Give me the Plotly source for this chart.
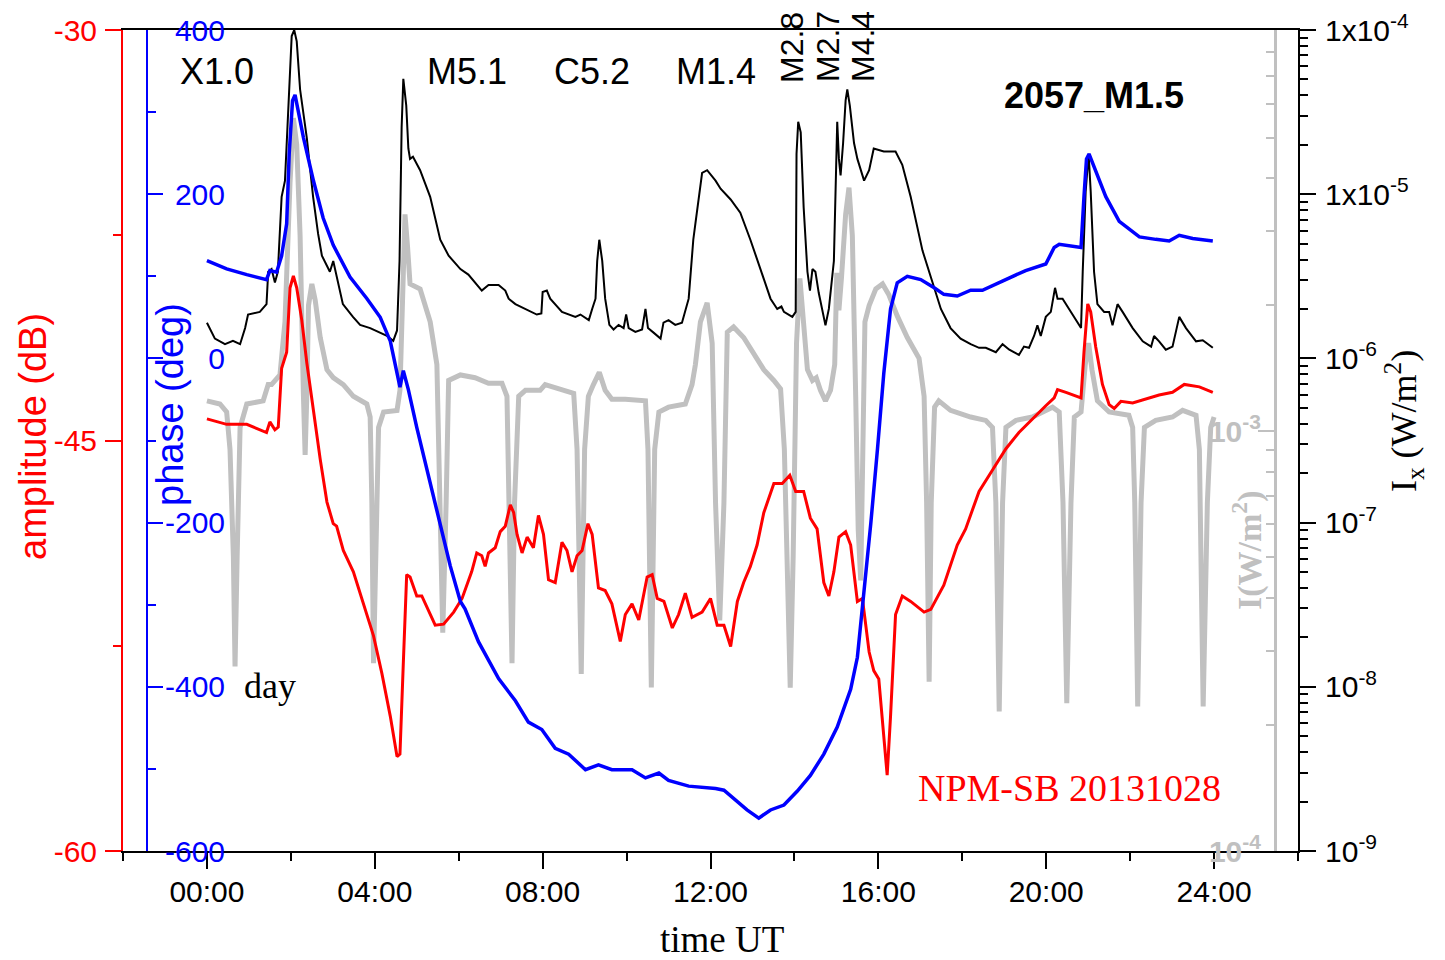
import plotly.graph_objects as go

W, H = 1445, 960
SANS = "Liberation Sans, Arial, sans-serif"
SERIF = "Liberation Serif, Times New Roman, serif"
GRAY = "#C0C0C0"
RED = "#FF0000"
BLUE = "#0000FF"

# ---------------- data (time in hours UT) ----------------
# GOES X-ray flux Ix (W/m^2), black curve, right log axis
t_xray = [0.00,0.19,0.43,0.62,0.79,0.91,0.98,1.26,1.42,1.46,
          1.54,1.62,1.69,1.78,1.86,1.93,2.02,2.08,2.14,2.22,
          2.38,2.53,2.65,2.74,2.86,2.93,3.01,3.09,3.24,3.48,
          3.65,3.89,4.13,4.29,4.44,4.53,4.59,4.64,4.68,4.75,
          4.80,4.84,4.91,5.08,5.32,5.56,5.76,6.04,
          6.23,6.55,6.71,6.95,7.11,7.19,7.35,7.59,7.86,7.97,
          8.00,8.10,8.18,8.46,8.78,8.90,9.10,9.18,9.26,9.30,
          9.35,9.42,9.49,9.59,9.69,9.81,9.93,9.99,10.05,10.21,
          10.37,10.45,10.51,10.65,10.81,10.88,11.00,11.16,11.32,11.48,
          11.59,11.64,11.80,11.92,12.12,
          12.24,12.48,12.71,12.95,13.19,13.43,13.59,13.69,13.75,13.95,
          14.03,14.05,14.09,14.15,14.22,14.31,14.37,14.43,14.50,14.58,
          14.74,14.82,14.94,14.98,15.02,15.06,15.10,15.16,15.22,15.26,
          15.32,15.42,15.50,15.66,15.78,15.89,16.13,16.41,16.57,16.77,
          17.05,17.25,17.49,17.72,17.96,18.20,
          18.40,18.56,18.80,18.96,19.12,19.35,19.47,19.59,19.71,19.79,
          19.87,19.99,20.11,20.21,20.27,20.39,20.55,20.71,20.83,20.87,
          20.94,21.01,21.06,21.14,21.22,21.38,21.50,21.58,21.70,21.82,
          22.06,22.30,22.50,22.57,22.69,22.85,23.01,23.17,23.33,23.57,23.73,23.97]
flux_xray = [1.65e-6,1.32e-6,1.22e-6,1.28e-6,1.22e-6,1.53e-6,1.85e-6,1.92e-6,2.14e-6,3.37e-6,
             3.50e-6,2.90e-6,3.37e-6,9.64e-6,1.21e-5,2.99e-5,9.19e-5,1.0e-4,8.53e-5,4.34e-5,
             2.20e-5,9.64e-6,5.73e-6,4.22e-6,3.66e-6,3.37e-6,3.92e-6,3.13e-6,2.14e-6,1.79e-6,
             1.60e-6,1.53e-6,1.43e-6,1.37e-6,1.28e-6,1.48e-6,3.92e-6,2.56e-5,5.04e-5,3.46e-5,
             1.90e-5,1.64e-5,1.69e-5,1.40e-5,9.64e-6,5.28e-6,4.22e-6,3.50e-6,
             3.24e-6,2.59e-6,2.80e-6,2.80e-6,2.59e-6,2.31e-6,2.14e-6,2.00e-6,1.85e-6,1.88e-6,
             2.54e-6,2.59e-6,2.31e-6,1.92e-6,1.79e-6,1.85e-6,1.71e-6,2.00e-6,2.31e-6,3.92e-6,
             5.28e-6,3.92e-6,2.31e-6,1.60e-6,1.50e-6,1.60e-6,1.53e-6,1.85e-6,1.53e-6,1.45e-6,
             1.50e-6,2.00e-6,1.53e-6,1.43e-6,1.32e-6,1.65e-6,1.71e-6,1.60e-6,1.65e-6,2.31e-6,
             5.28e-6,6.62e-6,1.35e-5,1.40e-5,1.21e-5,
             1.08e-5,9.29e-6,7.71e-6,5.28e-6,3.50e-6,2.31e-6,2.00e-6,2.07e-6,1.92e-6,1.79e-6,
             1.92e-6,1.76e-5,2.76e-5,2.38e-5,8.30e-6,3.37e-6,2.59e-6,3.50e-6,3.37e-6,2.50e-6,
             1.59e-6,2.00e-6,3.92e-6,1.21e-5,2.76e-5,1.64e-5,1.30e-5,2.05e-5,3.73e-5,4.34e-5,
             3.46e-5,2.05e-5,1.64e-5,1.21e-5,1.40e-5,1.90e-5,1.82e-5,1.82e-5,1.51e-5,9.64e-6,
             4.55e-6,3.13e-6,2.00e-6,1.53e-6,1.32e-6,1.22e-6,
             1.16e-6,1.16e-6,1.09e-6,1.22e-6,1.13e-6,1.05e-6,1.18e-6,1.16e-6,1.37e-6,1.59e-6,
             1.37e-6,1.79e-6,1.92e-6,2.69e-6,2.31e-6,2.31e-6,2.00e-6,1.71e-6,1.53e-6,3.37e-6,
             1.04e-5,1.76e-5,1.04e-5,3.37e-6,2.14e-6,1.92e-6,1.92e-6,1.59e-6,2.14e-6,1.92e-6,
             1.53e-6,1.27e-6,1.18e-6,1.37e-6,1.27e-6,1.13e-6,1.18e-6,1.79e-6,1.53e-6,1.27e-6,1.29e-6,1.16e-6]

# VLF phase (deg), blue curve
t_phase = [0.00,0.47,0.95,1.42,1.50,1.66,1.78,1.90,1.96,2.04,
           2.10,2.18,2.30,2.54,2.77,3.01,3.41,3.81,4.13,4.37,
           4.53,4.60,4.68,4.80,5.00,5.24,5.56,5.80,6.04,
           6.15,6.47,6.95,7.35,7.66,7.98,8.30,8.62,9.02,9.33,
           9.65,10.13,10.45,10.77,11.00,11.48,12.12,
           12.32,12.64,12.87,13.15,13.43,13.75,14.07,14.38,14.70,15.02,
           15.34,15.50,15.66,15.82,15.98,16.13,16.29,16.45,16.69,17.01,
           17.33,17.56,17.88,18.20,
           18.48,19.04,19.51,19.99,20.19,20.31,20.83,20.90,20.96,21.02,
           21.18,21.42,21.74,22.22,22.61,22.93,23.17,23.49,23.97]
phase = [119,109,102,96,107,105,125,164,249,314,
         321,301,269,216,171,138,99,73,50,21,
         -18,-35,-15,-38,-84,-136,-201,-253,-296,
         -305,-345,-390,-417,-443,-452,-475,-482,-501,-495,
         -501,-501,-511,-505,-514,-521,-524,
         -526,-540,-550,-560,-550,-544,-527,-508,-482,-449,
         -403,-364,-286,-201,-110,-18,60,92,100,96,
         86,78,76,83,
         83,96,107,115,135,139,135,197,243,249,
         229,197,167,148,145,143,150,146,143]

# VLF amplitude (dB), red curve
t_amp = [0.00,0.47,0.95,1.42,1.50,1.62,1.70,1.78,1.90,1.98,
         2.06,2.14,2.26,2.38,2.54,2.70,2.86,3.01,3.09,3.25,
         3.49,3.73,3.97,4.17,4.37,4.53,4.60,4.68,4.76,4.84,
         5.00,5.12,5.32,5.44,5.64,5.88,6.08,6.31,6.43,6.55,
         6.63,6.71,6.87,6.99,7.11,7.23,7.31,7.39,7.51,7.63,
         7.78,7.90,8.02,8.14,8.30,8.46,8.58,8.70,8.82,8.94,
         9.08,9.18,9.33,9.49,9.65,9.85,9.97,10.13,10.29,10.49,
         10.61,10.73,10.89,11.09,11.24,11.40,11.56,11.80,12.00,12.16,
         12.32,12.48,12.64,12.79,12.95,13.11,13.27,13.51,13.71,13.89,
         14.03,14.22,14.38,14.54,14.70,14.82,14.94,15.06,15.22,15.34,
         15.50,15.62,15.78,15.89,16.01,16.13,16.21,16.29,16.41,16.57,
         16.77,17.09,17.25,17.56,17.88,18.08,18.40,18.72,19.04,19.35,
         19.67,19.99,20.19,20.27,20.47,20.83,20.90,20.99,21.06,21.18,
         21.34,21.50,21.62,21.78,22.06,22.38,22.69,23.01,23.29,23.65,23.97]
amp = [-44.21,-44.41,-44.41,-44.71,-44.32,-44.61,-44.51,-42.36,-41.77,-39.42,
       -38.99,-39.42,-40.60,-42.16,-43.92,-45.69,-47.25,-48.04,-48.13,-49.02,
       -49.80,-50.97,-52.14,-53.52,-55.08,-56.55,-56.46,-53.13,-49.90,-49.99,
       -50.68,-50.68,-51.36,-51.75,-51.71,-51.27,-50.77,-49.79,-49.11,-49.21,
       -49.60,-49.11,-48.92,-48.33,-48.13,-47.35,-47.64,-48.43,-49.11,-48.53,
       -48.92,-47.74,-48.43,-50.09,-50.19,-48.72,-49.02,-49.80,-49.21,-49.02,
       -48.04,-48.43,-50.39,-50.48,-50.97,-52.34,-51.36,-50.97,-51.56,-49.99,
       -49.90,-50.77,-50.88,-51.85,-51.36,-50.58,-51.46,-51.27,-50.77,-51.75,
       -51.75,-52.53,-50.88,-50.19,-49.60,-48.82,-47.64,-46.57,-46.57,-46.27,
       -46.86,-46.86,-47.84,-48.23,-50.19,-50.68,-49.80,-48.53,-48.33,-48.82,
       -50.88,-50.77,-52.73,-53.41,-53.71,-55.86,-57.23,-55.08,-51.36,-50.68,
       -50.88,-51.27,-51.17,-50.29,-48.82,-48.23,-46.86,-46.08,-45.30,-44.71,
       -44.21,-43.73,-43.44,-43.14,-43.24,-43.44,-41.77,-40.01,-40.30,-41.58,
       -42.95,-43.69,-43.83,-43.57,-43.63,-43.49,-43.34,-43.24,-42.95,-43.04,-43.24]

# Gray flux curve I (W/m^2), gray log axis
t_gray = [0.00,0.31,0.47,0.55,0.63,0.67,0.72,0.79,0.95,1.34,
          1.46,1.54,1.74,1.86,1.98,2.06,2.14,2.22,2.30,2.34,
          2.38,2.42,2.50,2.58,2.70,2.86,3.01,3.25,3.49,3.81,
          3.89,3.93,3.97,4.03,4.09,4.21,4.53,4.60,4.67,4.72,
          4.78,4.84,5.08,5.32,5.48,5.56,5.62,5.70,5.76,6.04,
          6.39,6.71,7.03,7.15,7.20,7.27,7.33,7.43,7.59,7.94,
          8.06,8.46,8.74,8.82,8.92,9.00,9.09,9.21,9.35,9.49,
          9.65,9.97,10.45,10.51,10.59,10.67,10.77,11.00,11.40,11.56,
          11.64,11.76,11.92,12.04,12.12,12.22,12.32,12.40,12.55,12.79,
          13.03,13.27,13.51,13.67,13.76,13.84,13.90,13.97,14.05,14.13,
          14.21,14.31,14.43,14.52,14.62,14.74,14.86,14.96,15.01,15.06,
          15.12,15.22,15.30,15.38,15.46,15.52,15.58,15.62,15.68,15.78,
          15.94,16.10,16.25,16.45,16.69,16.97,17.09,17.15,17.21,17.26,
          17.34,17.44,17.72,18.20,18.56,18.72,18.80,18.88,18.96,19.04,
          19.28,19.67,20.15,20.31,20.40,20.49,20.59,20.67,20.83,20.93,
          21.01,21.09,21.22,21.50,21.97,22.06,22.11,22.18,22.26,22.34,
          22.61,23.01,23.25,23.57,23.65,23.74,23.84,23.92,24.00]
flux_gray = [1.18e-3,1.16e-3,1.11e-3,9.04e-4,5.03e-4,2.75e-4,5.03e-4,1.02e-3,1.16e-3,1.18e-3,
             1.29e-3,1.29e-3,1.36e-3,1.82e-3,3.91e-3,5.56e-3,4.81e-3,2.92e-3,1.21e-3,8.77e-4,
             1.21e-3,1.99e-3,2.24e-3,2.05e-3,1.67e-3,1.40e-3,1.34e-3,1.29e-3,1.21e-3,1.16e-3,
             1.08e-3,6.75e-4,2.80e-4,5.03e-4,1.02e-3,1.11e-3,1.12e-3,1.25e-3,2.52e-3,3.28e-3,
             2.75e-3,2.24e-3,2.18e-3,1.82e-3,1.44e-3,6.75e-4,3.31e-4,6.75e-4,1.32e-3,1.36e-3,
             1.34e-3,1.30e-3,1.30e-3,1.21e-3,6.75e-4,2.80e-4,6.75e-4,1.21e-3,1.25e-3,1.25e-3,
             1.29e-3,1.25e-3,1.23e-3,9.04e-4,2.64e-4,9.04e-4,1.21e-3,1.29e-3,1.38e-3,1.25e-3,
             1.19e-3,1.19e-3,1.18e-3,9.04e-4,2.45e-4,9.04e-4,1.11e-3,1.14e-3,1.16e-3,1.29e-3,
             1.44e-3,1.82e-3,2.02e-3,1.62e-3,6.75e-4,3.54e-4,6.75e-4,1.72e-3,1.77e-3,1.67e-3,
             1.53e-3,1.40e-3,1.32e-3,1.26e-3,9.04e-4,3.76e-4,2.45e-4,5.03e-4,1.62e-3,2.31e-3,
             1.88e-3,1.40e-3,1.32e-3,1.34e-3,1.25e-3,1.18e-3,1.25e-3,1.44e-3,2.38e-3,1.94e-3,
             2.31e-3,3.28e-3,3.80e-3,2.92e-3,1.21e-3,5.82e-4,4.41e-4,9.04e-4,1.82e-3,1.99e-3,
             2.18e-3,2.24e-3,2.11e-3,1.88e-3,1.67e-3,1.49e-3,1.21e-3,6.75e-4,2.53e-4,6.75e-4,
             1.14e-3,1.18e-3,1.12e-3,1.08e-3,1.06e-3,1.02e-3,6.75e-4,2.15e-4,6.75e-4,1.02e-3,
             1.06e-3,1.08e-3,1.14e-3,1.11e-3,6.75e-4,2.25e-4,6.75e-4,1.08e-3,1.11e-3,1.44e-3,
             1.62e-3,1.40e-3,1.18e-3,1.11e-3,1.09e-3,1.02e-3,6.75e-4,2.21e-4,6.75e-4,1.02e-3,
             1.06e-3,1.08e-3,1.12e-3,1.09e-3,9.04e-4,2.21e-4,6.75e-4,1.02e-3,1.08e-3]

# axis ticks / labels
x_tickvals = [0, 4, 8, 12, 16, 20, 24]
x_ticktext = ["00:00", "04:00", "08:00", "12:00", "16:00", "20:00", "24:00"]
x_minor = [-2, 2, 6, 10, 14, 18, 22, 26]
amp_ticks = [-60, -45, -30]
amp_minor = [-52.5, -37.5]
phase_ticks = [-600, -400, -200, 0, 200, 400]
phase_minor = [-500, -300, -100, 100, 300]
ix_ticks = [1e-9, 1e-8, 1e-7, 1e-6, 1e-5, 1e-4]
ix_ticktext = ["10<sup>-9</sup>", "10<sup>-8</sup>", "10<sup>-7</sup>", "10<sup>-6</sup>",
               "1x10<sup>-5</sup>", "1x10<sup>-4</sup>"]
ix_minor = [k * 10.0 ** e for e in range(-9, -4) for k in range(2, 10)]
gray_ticks = [1e-4, 1e-3]
gray_ticktext = ["<b>10<sup>-4</sup></b>", "<b>10<sup>-3</sup></b>"]
gray_minor = [k * 10.0 ** e for e in (-4, -3) for k in range(2, 10)]

flare_labels = ["X1.0", "M5.1", "C5.2", "M1.4"]
flare_label_px = [217, 467, 592, 716]
flare_rot_labels = ["M2.8", "M2.7", "M4.4"]
flare_rot_px = [792, 828, 863]

# ---------------- figure ----------------
def px(x):
    return x / W

def py(y):
    return 1 - y / H

XDOM = [px(123), px(1298)]
YDOM = [py(851), py(30)]

fig = go.Figure()
fig.add_trace(go.Scatter(x=t_gray, y=flux_gray, yaxis="y", mode="lines",
                         line=dict(color=GRAY, width=5), showlegend=False, hoverinfo="skip"))
fig.add_trace(go.Scatter(x=t_xray, y=flux_xray, yaxis="y2", mode="lines",
                         line=dict(color="black", width=2), showlegend=False))
fig.add_trace(go.Scatter(x=t_amp, y=amp, yaxis="y3", mode="lines",
                         line=dict(color=RED, width=3), showlegend=False))
fig.add_trace(go.Scatter(x=t_phase, y=phase, yaxis="y4", mode="lines",
                         line=dict(color=BLUE, width=3.5), showlegend=False))
fig.add_trace(go.Scatter(x=[None], y=[None], yaxis="y5", mode="lines", showlegend=False))

fig.update_layout(
    width=W, height=H, autosize=False,
    margin=dict(l=0, r=0, t=0, b=0, pad=0),
    template="none",
    paper_bgcolor="white", plot_bgcolor="white",
    font=dict(family=SANS, size=30, color="black"),
    showlegend=False,
    xaxis=dict(domain=XDOM, range=[-2, 26], anchor="y",
               tickvals=x_tickvals, ticktext=x_ticktext,
               ticks="outside", ticklen=16, tickwidth=2, tickcolor="black",
               minor=dict(tickmode="array", tickvals=x_minor, ticks="outside", ticklen=8,
                          tickwidth=2, tickcolor="black"),
               showline=True, linecolor="black", linewidth=2, mirror=True,
               showgrid=False, zeroline=False, automargin=False,
               tickfont=dict(family=SANS, size=30, color="black"), ticklabelstandoff=-3),
    # gray log axis (base)
    yaxis=dict(domain=YDOM, type="log", range=[-4, -2.045], anchor="free", position=px(1275),
               side="right", showline=True, linecolor=GRAY, linewidth=3,
               ticks="inside", ticklen=16, tickwidth=2, tickcolor=GRAY,
               tickvals=gray_ticks, ticktext=gray_ticktext,
               ticklabelposition="inside", ticklabeloverflow="allow",
               tickfont=dict(family=SANS, size=30, color=GRAY),
               minor=dict(tickmode="array", tickvals=gray_minor, ticks="inside", ticklen=8,
                          tickwidth=2, tickcolor=GRAY),
               showgrid=False, zeroline=False, automargin=False),
    # black Ix log axis
    yaxis2=dict(domain=YDOM, type="log", range=[-9, -4], overlaying="y", anchor="x", side="right",
                showline=True, linecolor="black", linewidth=2,
                ticks="outside", ticklen=16, tickwidth=2, tickcolor="black",
                tickvals=ix_ticks, ticktext=ix_ticktext,
                tickfont=dict(family=SANS, size=30, color="black"), ticklabelstandoff=3,
                minor=dict(tickmode="array", tickvals=ix_minor, ticks="outside", ticklen=8,
                           tickwidth=2, tickcolor="black"),
                showgrid=False, zeroline=False, automargin=False),
    # red amplitude axis
    yaxis3=dict(domain=YDOM, range=[-60, -30], overlaying="y", anchor="x", side="left",
                showline=True, linecolor=RED, linewidth=2,
                ticks="outside", ticklen=16, tickwidth=2, tickcolor=RED,
                tickvals=amp_ticks, ticktext=[str(v) for v in amp_ticks],
                tickfont=dict(family=SANS, size=30, color=RED), ticklabelstandoff=2,
                minor=dict(tickmode="array", tickvals=amp_minor, ticks="outside", ticklen=8,
                           tickwidth=2, tickcolor=RED),
                showgrid=False, zeroline=False, automargin=False),
    # blue phase axis (line + inward ticks)
    yaxis4=dict(domain=YDOM, range=[-600, 400], overlaying="y", anchor="free", position=px(147),
                side="left", showline=True, linecolor=BLUE, linewidth=2,
                ticks="inside", ticklen=15, tickwidth=2, tickcolor=BLUE,
                tickvals=phase_ticks, showticklabels=False,
                minor=dict(tickmode="array", tickvals=phase_minor, ticks="inside", ticklen=8,
                           tickwidth=2, tickcolor=BLUE),
                showgrid=False, zeroline=False, automargin=False),
    # blue phase tick labels (right-aligned inside the frame)
    yaxis5=dict(domain=YDOM, range=[-600, 400], overlaying="y", anchor="free", position=px(225),
                side="left", showline=False, ticks="",
                tickvals=phase_ticks, ticktext=[str(v) for v in phase_ticks],
                tickfont=dict(family=SANS, size=30, color=BLUE), ticklabelstandoff=0,
                showgrid=False, zeroline=False, automargin=False),
)

ann = []
def text(x, y, s, size, color="black", family=SANS, angle=0):
    ann.append(dict(x=px(x), y=py(y), xref="paper", yref="paper", text=s, showarrow=False,
                    xanchor="center", yanchor="middle", textangle=angle,
                    font=dict(family=family, size=size, color=color)))

for lab, xp in zip(flare_labels, flare_label_px):
    text(xp, 72, lab, 36)
for lab, xp in zip(flare_rot_labels, flare_rot_px):
    text(xp, 47, lab, 32, angle=-90)
text(1094, 96, "<b>2057_M1.5</b>", 36)
text(270, 686, "day", 36, family=SERIF)
text(1069, 788, "NPM-SB 20131028", 38, color=RED, family=SERIF)
text(722, 939, "time UT", 37, family=SERIF)
text(33, 437, "amplitude (dB)", 38, color=RED, angle=-90)
text(170, 405, "phase (deg)", 38, color=BLUE, angle=-90)
text(1404, 421, "I<sub>x</sub> (W/m<sup>2</sup>)", 36, family=SERIF, angle=-90)
text(1247, 550, "<b>I(W/m<sup>2</sup>)</b>", 34, color=GRAY, family=SERIF, angle=-90)

fig.update_layout(annotations=ann)
fig.write_html("out.html")
